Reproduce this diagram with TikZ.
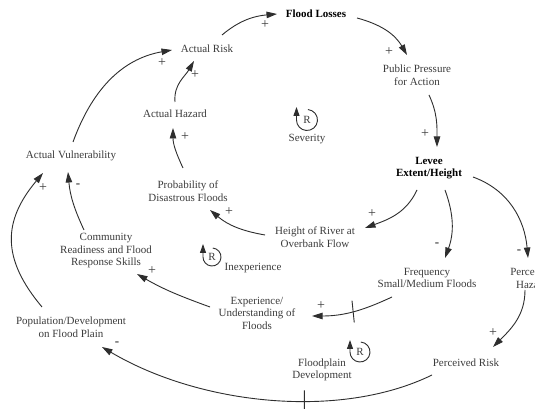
\documentclass[tikz,border=0pt]{standalone}
\usepackage{fontspec}
\setmainfont{Liberation Serif}
\usetikzlibrary{arrows.meta}
\definecolor{ink}{HTML}{2E2E2E}
\definecolor{txt}{HTML}{3C3C3C}
\begin{document}
\begin{tikzpicture}[x=1pt,y=1pt,
  var/.style={font=\fontsize{11}{12.5}\selectfont, text=txt, align=center, inner sep=1pt},
  bvar/.style={var, font=\fontsize{11}{12.5}\selectfont\bfseries, text=black},
  link/.style={draw=ink, line width=0.9pt, -{Triangle[length=10.5pt,width=6.5pt]}},
  loopline/.style={draw=ink, line width=0.9pt, -{Triangle[length=9pt,width=6pt]}},
  pol/.style={font=\fontsize{14}{14}\selectfont, text=txt, inner sep=0pt},
  neg/.style={font=\fontsize{13}{13}\selectfont\bfseries, text=txt, inner sep=0pt},
  tickmark/.style={draw=ink, line width=0.9pt, inner sep=0pt, minimum width=0pt, minimum height=22pt, sloped}
]
\useasboundingbox (0,0) rectangle (535,409);
\clip (0,0) rectangle (535,409);
\fill[white] (0,0) rectangle (535,409);

% variables
\node[bvar] (FL) at (316,395) {Flood Losses};
\node[var] (AR) at (207,360) {Actual Risk};
\node[var] (AH) at (175,295) {Actual Hazard};
\node[var] (PD) at (188,218) {Probability of\\Disastrous Floods};
\node[var] (AV) at (71,253) {Actual Vulnerability};
\node[var] (PP) at (417,334) {Public Pressure\\for Action};
\node[bvar] (LV) at (429,241) {Levee\\Extent/Height};
\node[var] (HR) at (315,172) {Height of River at\\Overbank Flow};
\node[var] (FQ) at (427,131) {Frequency\\Small/Medium Floods};
\node[var] (PH) at (532,131) {Perceived\\Hazard};
\node[var] (PR) at (466,46) {Perceived Risk};
\node[var] (FD) at (322,39) {Floodplain\\Development};
\node[var] (EX) at (257,96) {Experience/\\Understanding of\\Floods};
\node[var] (COM) at (106,158) {Community\\Readiness and Flood\\Response Skills};
\node[var] (POP) at (71,82) {Population/Development\\on Flood Plain};
\node[var] (INX) at (253,141) {Inexperience};
\node[var] (SEV) at (307,270) {Severity};

% loop markers
\node[var] (RS) at (307,289) {R};
\draw[loopline] ([shift={(85:10.5pt)}]RS.center) arc[start angle=85,end angle=-180,radius=10.5pt] -- ++(0,13pt);
\node[var] (RI) at (212,152) {R};
\draw[loopline] ([shift={(85:9pt)}]RI.center) arc[start angle=85,end angle=-180,radius=9pt] -- ++(0,13pt);
\node[var] (RF) at (360,57) {R};
\draw[loopline] ([shift={(85:10pt)}]RF.center) arc[start angle=85,end angle=-180,radius=10pt] -- ++(0,12pt);

% connectors
\draw[link] ([shift={(15,14)}]AR.center) to[out=40,in=185] ([shift={(-39,0)}]FL.center);
\draw[link] ([shift={(41,-4)}]FL.center) to[out=-15,in=120] ([shift={(-10,20)}]PP.center);
\draw[link] ([shift={(12,-20)}]PP.center) to[out=-65,in=90] ([shift={(8,21)}]LV.center);
\draw[link] ([shift={(-12,-22)}]LV.center) to[out=-115,in=20] ([shift={(50,9)}]HR.center);
\draw[link] ([shift={(16,-22)}]LV.center) to[out=-70,in=70] ([shift={(18,20)}]FQ.center);
\draw[link] ([shift={(44,-9)}]LV.center) to[out=-20,in=95] ([shift={(-4,20)}]PH.center);
\draw[link] ([shift={(-7,-12)}]PH.center) to[out=-90,in=45] ([shift={(27,16)}]PR.center);
\draw[link] ([shift={(-34,-12)}]PR.center) .. controls (340,-11) and (200,4) .. node[tickmark,pos=0.4] (T1) {} ([shift={(31,-20)}]POP.center);
\draw[link] ([shift={(-35,-19)}]FQ.center) to[out=205,in=0] node[tickmark,pos=0.5,rotate=-8] (T2) {} ([shift={(55,-3)}]EX.center);
\draw[link] ([shift={(-47,6)}]EX.center) to[out=160,in=-30] ([shift={(31,-23)}]COM.center);
\draw[link] ([shift={(-22,21)}]COM.center) to[out=115,in=-85] ([shift={(-3,-16)}]AV.center);
\draw[link] ([shift={(-29,20)}]POP.center) to[out=130,in=-130,looseness=1.2] ([shift={(-28,-17)}]AV.center);
\draw[link] ([shift={(2,14)}]AV.center) to[out=70,in=190] ([shift={(-35,-1)}]AR.center);
\draw[link] ([shift={(0,12)}]AH.center) to[out=95,in=-120] ([shift={(-13,-12)}]AR.center);
\draw[link] ([shift={(-5,23)}]PD.center) to[out=115,in=-90] ([shift={(-2,-14)}]AH.center);
\draw[link] ([shift={(-50,2)}]HR.center) to[out=170,in=-40] ([shift={(22,-19)}]PD.center);

% polarities
\node[pol] (p1) at (265,384) {+};
\node[pol] (p2) at (162,346) {+};
\node[pol] (p3) at (195,334) {+};
\node[pol] (p4) at (185,272) {+};
\node[pol] (p5) at (229,197) {+};
\node[pol] (p6) at (389,357) {+};
\node[pol] (p7) at (425,275) {+};
\node[pol] (p8) at (372,195) {+};
\node[neg] (p9) at (437,164) {-};
\node[neg] (p10) at (519,157) {-};
\node[pol] (p11) at (493,76) {+};
\node[pol] (p12) at (321,103) {+};
\node[pol] (p13) at (152,138) {+};
\node[pol] (p14) at (43,221) {+};
\node[neg] (p15) at (78,223) {-};
\node[neg] (p16) at (117,65) {-};
\end{tikzpicture}
\end{document}
